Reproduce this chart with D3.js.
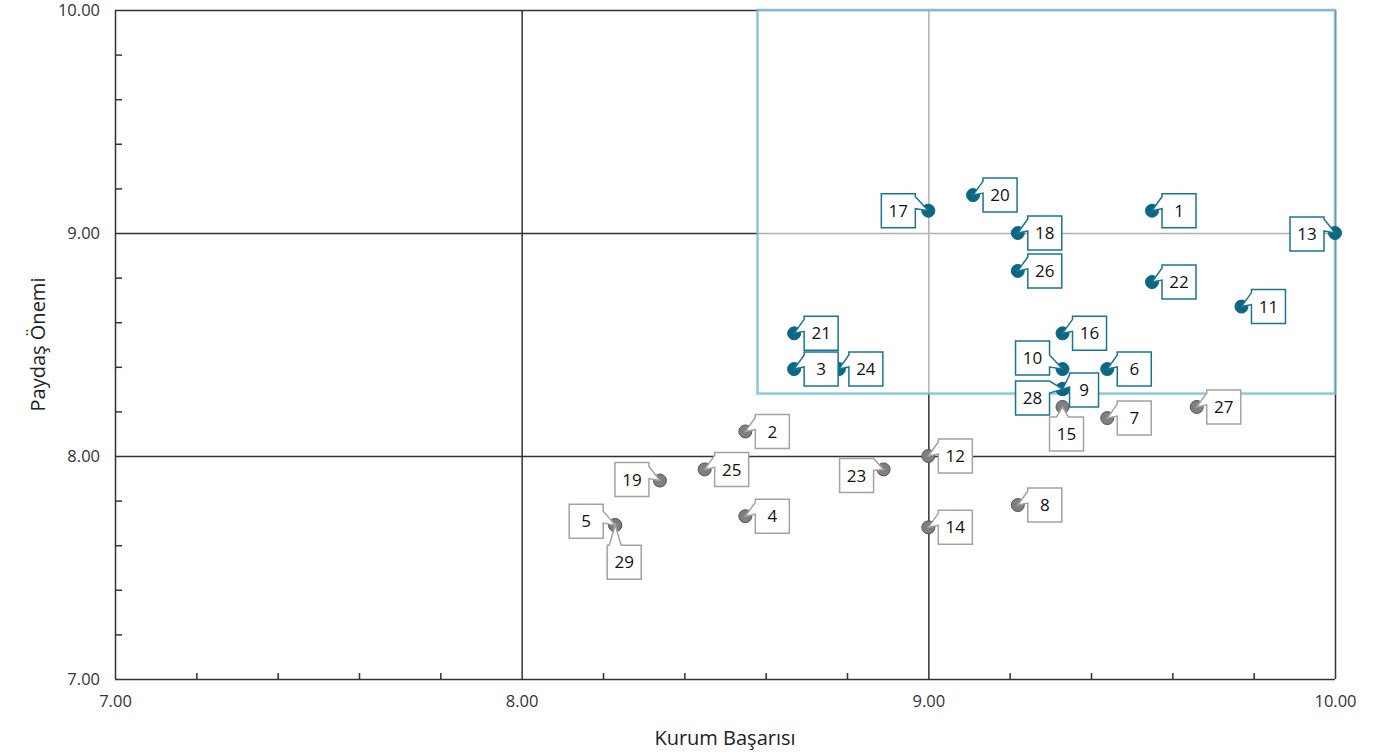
<!DOCTYPE html>
<html>
<head>
<meta charset="utf-8">
<script src="https://cdn.jsdelivr.net/npm/d3@7"></script>
<style>
  body { margin: 0; background: #fff; }
  svg { font-family: "Open Sans", "DejaVu Sans", sans-serif; }
</style>
</head>
<body>
<svg id="chart" width="1392" height="755"></svg>
<script>
// data
var ids = [1, 2, 3, 4, 5, 6, 7, 8, 9, 10, 11, 12, 13, 14, 15, 16, 17, 18, 19, 20, 21, 22, 23, 24, 25, 26, 27, 28, 29];
var kurum = [9.55, 8.55, 8.67, 8.55, 8.23, 9.44, 9.44, 9.22, 9.33, 9.33, 9.77, 9.00, 10.00, 9.00, 9.33, 9.33, 9.00, 9.22, 8.34, 9.11, 8.67, 9.55, 8.89, 8.78, 8.45, 9.22, 9.66, 9.33, 8.23];
var paydas = [9.10, 8.11, 8.39, 7.73, 7.69, 8.39, 8.17, 7.78, 8.30, 8.39, 8.67, 8.00, 9.00, 7.68, 8.22, 8.55, 9.10, 9.00, 7.89, 9.17, 8.55, 8.78, 7.94, 8.39, 7.94, 8.83, 8.22, 8.30, 7.69];
var xTicks = [7, 8, 9, 10];
var yTicks = [7, 8, 9, 10];
var minorStep = 0.2;
// highlighted priority region [x0, x1, y0, y1]
var focusBox = [8.58, 10, 8.28, 10];

var margin = {top: 10, right: 57, bottom: 76, left: 115};
var width = 1392 - margin.left - margin.right;
var height = 755 - margin.top - margin.bottom;

var svg = d3.select("#chart");
var g = svg.append("g").attr("transform", "translate(" + margin.left + "," + margin.top + ")");

var x = d3.scaleLinear().domain([7, 10]).range([0, width]);
var y = d3.scaleLinear().domain([7, 10]).range([height, 0]);

var minor = d3.range(7, 10.001, minorStep).map(d => +d.toFixed(1)).filter(d => xTicks.indexOf(d) < 0);

// minor ticks, pointing inward
g.append("g")
    .attr("transform", "translate(0," + height + ")")
    .call(d3.axisBottom(x).tickValues(minor).tickSize(-6).tickFormat(""))
    .call(a => a.select(".domain").remove())
    .selectAll("line").attr("stroke", "#333").attr("stroke-width", 1.5);
g.append("g")
    .call(d3.axisLeft(y).tickValues(minor).tickSize(-7).tickFormat(""))
    .call(a => a.select(".domain").remove())
    .selectAll("line").attr("stroke", "#333").attr("stroke-width", 1.5);

// major gridlines
g.append("g")
    .attr("transform", "translate(0," + height + ")")
    .call(d3.axisBottom(x).tickValues(xTicks).tickSize(-height).tickFormat(""))
    .call(a => a.select(".domain").remove())
    .selectAll("line").attr("stroke", "#333").attr("stroke-width", 1.5);
g.append("g")
    .call(d3.axisLeft(y).tickValues(yTicks).tickSize(-width).tickFormat(""))
    .call(a => a.select(".domain").remove())
    .selectAll("line").attr("stroke", "#333").attr("stroke-width", 1.5);

// tick labels
g.append("g")
    .attr("transform", "translate(0," + height + ")")
    .call(d3.axisBottom(x).tickValues(xTicks).tickSize(0).tickPadding(16).tickFormat(d3.format(".2f")))
    .call(a => a.select(".domain").remove())
    .selectAll("text").attr("fill", "#333").attr("font-size", 16.5).attr("font-family", "Open Sans, sans-serif");
g.append("g")
    .call(d3.axisLeft(y).tickValues(yTicks).tickSize(0).tickPadding(15).tickFormat(d3.format(".2f")))
    .call(a => a.select(".domain").remove())
    .selectAll("text").attr("fill", "#333").attr("font-size", 16.5).attr("font-family", "Open Sans, sans-serif");

// focus rectangle, semi-transparent so the grid shows through lighter
g.append("rect")
    .attr("x", x(focusBox[0]))
    .attr("y", y(focusBox[3]))
    .attr("width", x(focusBox[1]) - x(focusBox[0]))
    .attr("height", y(focusBox[2]) - y(focusBox[3]))
    .attr("fill", "#fff")
    .attr("fill-opacity", 0.62)
    .attr("stroke", "#6fb9d6")
    .attr("stroke-opacity", 0.8)
    .attr("stroke-width", 2.5);

// axis titles
svg.append("text")
    .attr("x", margin.left + x(8.5))
    .attr("y", 745)
    .attr("text-anchor", "middle")
    .attr("font-size", 20)
    .attr("fill", "#222")
    .text("Kurum Başarısı");
svg.append("text")
    .attr("transform", "translate(45," + (margin.top + y(8.5)) + ") rotate(-90)")
    .attr("text-anchor", "middle")
    .attr("font-size", 20)
    .attr("fill", "#222")
    .text("Paydaş Önemi");

var points = ids.map((id, i) => ({id: id, kx: kurum[i], py: paydas[i]}));
points.forEach(p => {
    p.inFocus = p.kx >= focusBox[0] && p.py >= focusBox[2];
});

// callout placement (side, offsets) to avoid overlaps
var place = {
    17: {side: "l", dx: 13, dy: -17},
    13: {side: "l", dx: 11, dy: -16},
    19: {side: "l", dx: 11, dy: -18},
    5:  {side: "l", dx: 12, dy: -21},
    23: {side: "l", dx: 10, dy: -11},
    10: {side: "l", dx: 13, dy: -28},
    28: {side: "l", dx: 13, dy: -8},
    9:  {side: "r", dx: 7, dy: -16, w: 29},
    15: {side: "b", dx: -13, dy: 10},
    29: {side: "b", dx: -8, dy: 20}
};

function calloutPath(px, py, o) {
    var w = o.w || 34, h = 34;
    var bx, by = py + o.dy, b1, b2, c;
    if (o.side === "b") {
        bx = px + o.dx;
        c = Math.max(bx + 6, Math.min(px, bx + w - 6));
        return "M" + bx + "," + by + "H" + (c - 6) + "L" + px + "," + py + "L" + (c + 6) + "," + by +
            "H" + (bx + w) + "V" + (by + h) + "H" + bx + "Z";
    }
    c = Math.max(by + 6, Math.min(py - 8, by + h - 6));
    b1 = c - 6; b2 = c + 6;
    if (o.side === "l") {
        var br = px - o.dx;
        bx = br - w;
        return "M" + bx + "," + by + "H" + br + "V" + b1 + "L" + px + "," + py + "L" + br + "," + b2 +
            "V" + (by + h) + "H" + bx + "Z";
    }
    bx = px + o.dx;
    return "M" + bx + "," + by + "H" + (bx + w) + "V" + (by + h) + "H" + bx + "V" + b2 +
        "L" + px + "," + py + "L" + bx + "," + b1 + "Z";
}

function boxCenter(px, py, o) {
    var w = o.w || 34;
    var by = py + o.dy;
    if (o.side === "l") return [px - o.dx - w / 2, by + 17];
    return [px + o.dx + w / 2, by + 17];
}

var blue = "#0b6784", blueLine = "#1a7590";
var grey = "#7f7f7f", greyLine = "#a3a3a3";

var dots = g.append("g");
points.forEach(p => {
    dots.append("circle")
        .attr("cx", x(p.kx))
        .attr("cy", y(p.py))
        .attr("r", 6.5)
        .attr("fill", p.inFocus ? blue : grey)
        .attr("stroke", p.inFocus ? blue : "#555")
        .attr("stroke-width", 1);
});

var labels = g.append("g");
points.forEach(p => {
    var o = place[p.id] || {side: "r", dx: 10, dy: -17};
    var px = x(p.kx), py = y(p.py);
    labels.append("path")
        .attr("d", calloutPath(px, py, o))
        .attr("fill", "#fff")
        .attr("stroke", p.inFocus ? blueLine : greyLine)
        .attr("stroke-width", 1.5)
        .attr("stroke-linejoin", "miter");
    var c = boxCenter(px, py, o);
    labels.append("text")
        .attr("x", c[0])
        .attr("y", c[1])
        .attr("dy", "0.36em")
        .attr("text-anchor", "middle")
        .attr("font-size", 17)
        .attr("fill", "#111")
        .text(p.id);
});
</script>
</body>
</html>
